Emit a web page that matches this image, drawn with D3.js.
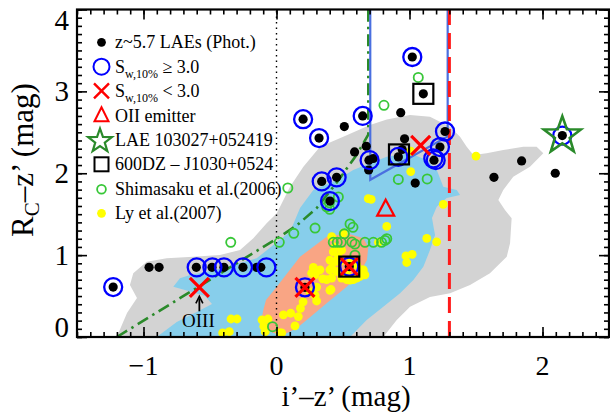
<!DOCTYPE html>
<html>
<head>
<meta charset="utf-8">
<script src="https://cdn.jsdelivr.net/npm/d3@7"></script>
<style>
  html, body { margin: 0; padding: 0; background: #fff; }
  svg { display: block; }
  text { font-family: "Liberation Serif", "Times New Roman", serif; fill: #000; }
</style>
</head>
<body>
<svg id="chart" width="610" height="412"></svg>
<script>
// ---- axis ticks ----
const xTicks = [-1, 0, 1, 2];
const yTicks = [0, 1, 2, 3, 4];

// ---- z~5.7 LAE photometric candidates (i'-z', Rc-z') ----
const laePhot = [
  [-1.228, 0.61], [-0.958, 0.851], [-0.883, 0.851], [-0.603, 0.851], [-0.485, 0.851],
  [-0.395, 0.851], [-0.252, 0.851], [-0.149, 0.851], [-0.118, 0.851],
  [0.20, 2.66], [0.32, 2.43], [0.51, 2.57], [0.648, 2.70], [0.587, 2.26], [0.675, 2.33],
  [0.695, 2.16], [0.728, 2.18], [0.693, 2.04], [0.34, 1.90], [0.452, 1.95], [0.402, 1.66],
  [0.916, 2.20], [0.945, 2.29], [0.963, 2.42], [0.934, 2.74], [1.043, 1.88], [1.021, 3.42],
  [1.104, 2.97], [1.267, 2.51], [1.229, 2.32], [1.184, 2.16], [1.635, 1.95], [1.843, 2.15],
  [2.096, 2.00], [2.149, 2.46], [0.214, 0.607], [0.547, 0.86]
];
// Sw,10% >= 3.0
const swHigh = [
  [-1.228, 0.61], [-0.600, 0.851], [-0.482, 0.851], [-0.395, 0.851], [-0.252, 0.851], [-0.076, 0.851],
  [0.20, 2.66], [0.32, 2.43], [0.648, 2.70], [0.700, 2.16], [0.34, 1.90], [0.452, 1.95],
  [0.402, 1.66], [0.916, 2.20], [1.021, 3.42], [1.267, 2.51], [1.229, 2.32], [1.179, 2.18],
  [1.197, 2.16], [2.149, 2.46], [0.214, 0.607], [0.547, 0.86]
];
// Sw,10% < 3.0
const swLow = [[-0.58, 0.607], [0.214, 0.607], [0.547, 0.86], [1.084, 2.34]];
const oiiEmitter = [[0.821, 1.56]];
const lae103027 = [[2.149, 2.46]];
const dz600 = [[0.547, 0.86], [0.921, 2.23], [1.104, 2.97]];

// ---- comparison samples ----
const shimasaku2006 = [
  [-0.344, 1.156], [0.021, 1.157], [0.130, 1.266], [0.29, 1.33], [0.377, 1.59], [0.40, 1.56],
  [0.553, 1.38], [0.575, 1.34], [0.51, 1.26], [0.427, 1.157], [0.457, 1.157], [0.487, 1.157],
  [0.567, 1.16], [0.59, 1.135], [0.665, 1.157], [0.728, 1.157], [0.79, 1.157], [0.816, 1.18],
  [0.829, 1.20], [0.59, 1.0], [-0.03, 0.126], [0.808, 2.83], [1.066, 3.17], [0.916, 1.925],
  [1.133, 1.93], [0.085, 1.82], [0.465, 1.71], [0.397, 1.64]
];
const ly2007 = [
  [-0.342, 0.22], [-0.297, 0.22], [-0.405, 0.05], [-0.355, 0.065], [-0.109, 0.21], [-0.064, 0.22],
  [-0.096, 0.13], [-0.085, 0.065], [0.039, 0.05], [0.026, 0.05], [0.052, 0.27], [0.107, 0.29],
  [0.164, 0.25], [0.139, 0.135], [0.18, 0.35], [0.20, 0.43], [0.29, 0.51], [0.302, 0.44],
  [0.252, 0.55], [0.302, 0.61], [0.402, 0.57], [0.41, 0.58], [0.377, 0.70], [0.347, 0.71],
  [0.415, 0.72], [0.49, 0.72], [0.528, 0.70], [0.553, 0.695], [0.578, 0.70], [0.603, 0.72],
  [0.628, 0.74], [0.665, 0.76], [0.653, 0.82], [0.64, 0.82], [0.527, 0.78], [0.603, 0.88],
  [0.565, 0.94], [0.477, 0.92], [0.44, 0.92], [0.465, 0.98], [0.49, 1.06], [0.402, 0.94],
  [0.277, 0.85], [0.314, 0.81], [0.264, 0.78], [0.289, 0.76], [0.327, 0.82], [0.402, 0.82],
  [0.415, 0.84], [0.452, 0.80], [0.427, 1.04], [0.44, 1.10], [0.415, 1.225], [0.502, 1.27],
  [0.766, 1.157], [0.829, 1.35], [1.13, 1.205], [1.204, 1.163], [1.254, 1.62], [0.973, 0.99],
  [1.02, 1.01], [0.979, 0.91], [1.009, 2.27], [1.009, 2.02], [0.69, 1.69], [0.712, 1.68],
  [1.50, 2.21]
];

// ---- number-density contours of the field population ----
const grayContour = [
  [-1.201, 0], [-1.124, 0.293], [-1.049, 0.476], [-1.102, 0.635], [-1.077, 0.778], [-0.976, 0.919],
  [-0.826, 0.961], [-0.626, 0.98], [-0.425, 1.001], [-0.274, 1.062], [-0.174, 1.205], [-0.074, 1.388],
  [0.002, 1.51], [0.102, 1.835], [0.202, 2.079], [0.327, 2.324], [0.502, 2.446], [0.703, 2.589],
  [0.829, 2.658], [1.004, 2.711], [1.154, 2.69], [1.304, 2.568], [1.38, 2.446], [1.43, 2.324],
  [1.48, 2.222], [1.58, 2.243], [1.705, 2.283], [1.856, 2.324], [1.956, 2.324], [2.006, 2.243],
  [1.906, 2.079], [1.78, 1.957], [1.705, 1.795], [1.668, 1.673], [1.718, 1.551], [1.768, 1.449],
  [1.756, 1.144], [1.731, 0.98], [1.605, 0.778], [1.455, 0.635], [1.305, 0.534], [1.154, 0.488],
  [1.004, 0.37], [0.904, 0.208], [0.803, 0]
];
const blueContour = [
  [-0.901, 0], [-0.75, 0.183], [-0.6, 0.305], [-0.485, 0.403], [-0.538, 0.5], [-0.688, 0.574],
  [-0.776, 0.614], [-0.726, 0.717], [-0.65, 0.757], [-0.462, 0.818], [-0.274, 0.904], [-0.149, 0.961],
  [-0.024, 1.123], [0.102, 1.286], [0.177, 1.575], [0.277, 1.795], [0.453, 1.917], [0.577, 2.039],
  [0.703, 2.121], [0.829, 2.201], [1.004, 2.243], [1.129, 2.161], [1.205, 2.039], [1.254, 1.835],
  [1.355, 1.795], [1.38, 1.734], [1.28, 1.697], [1.205, 1.591], [1.169, 1.453], [1.192, 1.245],
  [1.154, 1.062], [1.104, 0.858], [1.029, 0.696], [0.929, 0.534], [0.803, 0.37], [0.678, 0.208],
  [0.553, 0]
];
const salmonContour = [
  [-0.099, 0.33], [-0.111, 0.232], [-0.086, 0.122], [-0.026, 0.049], [0.064, 0.037], [0.152, 0.106],
  [0.227, 0.208], [0.377, 0.411], [0.528, 0.614], [0.628, 0.778], [0.68, 0.94], [0.69, 1.099],
  [0.653, 1.205], [0.528, 1.266], [0.377, 1.225], [0.177, 0.98], [0.002, 0.614], [-0.079, 0.452]
];

// ---- selection lines ----
const colourTrack = [[-1.2, 0], [0, 1.2], [0.15, 1.36], [0.3, 1.57], [0.45, 1.88], [0.6, 2.22], [0.69, 2.47], [0.69, 4]];
const selectionBox = [[0.705, 4], [0.705, 1.92], [1.287, 2.45], [1.287, 4]];
const izCut = [[1.3, 0], [1.3, 4]];
const izZero = [[0, 0], [0, 4]];

// ---- layout ----
const svg = d3.select("#chart");
const plot = { left: 77, right: 609, top: 9.5, bottom: 337 };
const x = d3.scaleLinear().domain([-1.5, 2.5]).range([plot.left, plot.right]);
const y = d3.scaleLinear().domain([0, 4]).range([plot.bottom, plot.top]);

svg.append("defs").append("clipPath").attr("id", "plotclip")
  .append("rect").attr("x", plot.left).attr("y", plot.top)
  .attr("width", plot.right - plot.left).attr("height", plot.bottom - plot.top);

const g = svg.append("g").attr("clip-path", "url(#plotclip)");
const line = d3.line().x(d => x(d[0])).y(d => y(d[1]));
const area = d3.line().x(d => x(d[0])).y(d => y(d[1])).curve(d3.curveLinearClosed);

// filled contours
g.append("path").attr("d", area(grayContour)).attr("fill", "#d3d3d3");
g.append("path").attr("d", area(blueContour)).attr("fill", "#87ceeb");
g.append("path").attr("d", area(salmonContour)).attr("fill", "#f9a584");

// reference lines
g.append("path").attr("d", line(izZero)).attr("fill", "none")
  .attr("stroke", "#000").attr("stroke-width", 1.4).attr("stroke-dasharray", "1.5,4");
g.append("path").attr("d", line(colourTrack)).attr("fill", "none")
  .attr("stroke", "#2a8a2a").attr("stroke-width", 2.6).attr("stroke-dasharray", "12,5,2.5,5");
g.append("path").attr("d", line(selectionBox)).attr("fill", "none")
  .attr("stroke", "#4a6fe0").attr("stroke-width", 2.2);
g.append("path").attr("d", line(izCut)).attr("fill", "none")
  .attr("stroke", "#ff1a1a").attr("stroke-width", 3).attr("stroke-dasharray", "16,8");

// marker helpers
function starPath(R) {
  const r = R * 0.4, pts = [];
  for (let i = 0; i < 10; i++) {
    const a = -Math.PI / 2 + i * Math.PI / 5, rr = i % 2 ? r : R;
    pts.push([rr * Math.cos(a), rr * Math.sin(a)]);
  }
  return "M" + pts.map(p => p.join(",")).join("L") + "Z";
}
function crossPath(s) { return `M${-s},${-s}L${s},${s}M${-s},${s}L${s},${-s}`; }
function triPath(w, h) { return `M0,${-h * 0.6}L${w / 2},${h * 0.4}L${-w / 2},${h * 0.4}Z`; }

// comparison samples
g.selectAll("circle.ly").data(ly2007).join("circle").attr("class", "ly")
  .attr("cx", d => x(d[0])).attr("cy", d => y(d[1])).attr("r", 4.4).attr("fill", "#ffff00");
g.selectAll("circle.shim").data(shimasaku2006).join("circle").attr("class", "shim")
  .attr("cx", d => x(d[0])).attr("cy", d => y(d[1])).attr("r", 4.6)
  .attr("fill", "none").attr("stroke", "#38c738").attr("stroke-width", 1.8);

// LAE candidates
g.selectAll("circle.lae").data(laePhot).join("circle").attr("class", "lae")
  .attr("cx", d => x(d[0])).attr("cy", d => y(d[1])).attr("r", 4.6).attr("fill", "#000");
g.selectAll("circle.sw").data(swHigh).join("circle").attr("class", "sw")
  .attr("cx", d => x(d[0])).attr("cy", d => y(d[1])).attr("r", 9)
  .attr("fill", "none").attr("stroke", "#0000ff").attr("stroke-width", 2.3);
g.selectAll("path.swlow").data(swLow).join("path").attr("class", "swlow")
  .attr("transform", d => `translate(${x(d[0])},${y(d[1])})`).attr("d", crossPath(9.5))
  .attr("fill", "none").attr("stroke", "#ff0000").attr("stroke-width", 3.2);
g.selectAll("rect.dz").data(dz600).join("rect").attr("class", "dz")
  .attr("x", d => x(d[0]) - 10).attr("y", d => y(d[1]) - 10).attr("width", 20).attr("height", 20)
  .attr("fill", "none").attr("stroke", "#000").attr("stroke-width", 2.2);
g.selectAll("path.star").data(lae103027).join("path").attr("class", "star")
  .attr("transform", d => `translate(${x(d[0])},${y(d[1])})`).attr("d", starPath(19.5))
  .attr("fill", "none").attr("stroke", "#2a8a2a").attr("stroke-width", 2.6).attr("stroke-linejoin", "miter");
g.selectAll("path.oii").data(oiiEmitter).join("path").attr("class", "oii")
  .attr("transform", d => `translate(${x(d[0])},${y(d[1])})`).attr("d", triPath(17, 16))
  .attr("fill", "none").attr("stroke", "#ff0000").attr("stroke-width", 2.2);

// OIII annotation under the first low-Sw cross
const oiii = swLow[0];
const ox = x(oiii[0]), oy = y(oiii[1]);
svg.append("path").attr("d", `M${ox},${oy + 24}L${ox},${oy + 11}`)
  .attr("stroke", "#000").attr("stroke-width", 1.8);
svg.append("path").attr("d", `M${ox - 3.5},${oy + 16}L${ox},${oy + 9}L${ox + 3.5},${oy + 16}`)
  .attr("fill", "none").attr("stroke", "#000").attr("stroke-width", 1.6);
svg.append("text").attr("x", ox - 1).attr("y", oy + 40).attr("text-anchor", "middle")
  .attr("font-size", 19).text("OIII");

// ---- frame and ticks ----
const xMinor = d3.range(-15, 26).map(i => i / 10);
const yMinor = d3.range(0, 41).map(i => i / 10);
const axes = svg.append("g");
function addAxis(axisFn, scale, vals, size, transform) {
  axes.append("g").attr("transform", transform)
    .call(axisFn(scale).tickValues(vals).tickSize(size).tickSizeOuter(0).tickFormat(""))
    .call(s => s.select(".domain").remove())
    .call(s => s.selectAll("line").attr("stroke", "#000").attr("stroke-width", 1.6));
}
addAxis(d3.axisBottom, x, xMinor, -5, `translate(0,${plot.bottom})`);
addAxis(d3.axisBottom, x, xTicks, -10, `translate(0,${plot.bottom})`);
addAxis(d3.axisTop, x, xMinor, -5, `translate(0,${plot.top})`);
addAxis(d3.axisTop, x, xTicks, -10, `translate(0,${plot.top})`);
addAxis(d3.axisLeft, y, yMinor, -5, `translate(${plot.left},0)`);
addAxis(d3.axisLeft, y, yTicks, -10, `translate(${plot.left},0)`);
addAxis(d3.axisRight, y, yMinor, -5, `translate(${plot.right},0)`);
addAxis(d3.axisRight, y, yTicks, -10, `translate(${plot.right},0)`);
svg.append("rect").attr("x", plot.left).attr("y", plot.top)
  .attr("width", plot.right - plot.left).attr("height", plot.bottom - plot.top)
  .attr("fill", "none").attr("stroke", "#000").attr("stroke-width", 2.2);

// tick labels
const fmt = d => (d < 0 ? "\u2212" + Math.abs(d) : String(d));
svg.selectAll("text.xt").data(xTicks).join("text").attr("class", "xt")
  .attr("x", d => x(d)).attr("y", 375).attr("text-anchor", "middle")
  .attr("font-size", 28).text(fmt);
svg.selectAll("text.yt").data(yTicks).join("text").attr("class", "yt")
  .attr("x", 69).attr("y", d => Math.min(Math.max(y(d), 20), 327))
  .attr("dy", "0.34em").attr("text-anchor", "end")
  .attr("font-size", 29).text(fmt);

// axis titles
svg.append("text").attr("x", 346).attr("y", 406).attr("text-anchor", "middle")
  .attr("font-size", 29).text("i\u2019\u2013z\u2019 (mag)");
const yt = svg.append("text").attr("transform", "translate(33,160) rotate(-90)")
  .attr("text-anchor", "middle").attr("font-size", 31);
yt.append("tspan").text("R");
yt.append("tspan").attr("font-size", 21).attr("dy", 6).text("C");
yt.append("tspan").attr("dy", -6).text("\u2013z\u2019 (mag)");

// ---- legend ----
const legendRows = [
  { key: "lae", label: "z~5.7 LAEs (Phot.)" },
  { key: "swHigh", label: ["S", "w,10%", " \u2265 3.0"] },
  { key: "swLow", label: ["S", "w,10%", " < 3.0"] },
  { key: "oii", label: "OII emitter" },
  { key: "star", label: "LAE 103027+052419" },
  { key: "dz", label: "600DZ \u2013 J1030+0524" },
  { key: "shim", label: "Shimasaku et al.(2006)" },
  { key: "ly", label: "Ly et al.(2007)" }
];
const legY = [42.3, 66.7, 90.9, 115.7, 140, 164.3, 189.3, 213.3];
const legSymX = 101.5, legTextX = 115;
const leg = svg.append("g");
legendRows.forEach((row, i) => {
  const cy = legY[i];
  const s = leg.append("g").attr("transform", `translate(${legSymX},${cy})`);
  if (row.key === "lae") s.append("circle").attr("r", 4.4).attr("fill", "#000");
  if (row.key === "swHigh") s.append("circle").attr("r", 8).attr("fill", "none").attr("stroke", "#0000ff").attr("stroke-width", 2);
  if (row.key === "swLow") s.append("path").attr("d", crossPath(7.5)).attr("stroke", "#ff0000").attr("stroke-width", 2.4);
  if (row.key === "oii") s.append("path").attr("d", triPath(14, 14)).attr("fill", "none").attr("stroke", "#ff0000").attr("stroke-width", 2);
  if (row.key === "star") s.attr("transform", `translate(${legSymX - 1.5},${cy + 1})`).append("path").attr("d", starPath(12.5)).attr("fill", "none").attr("stroke", "#2a8a2a").attr("stroke-width", 2.2);
  if (row.key === "dz") s.append("rect").attr("x", -7).attr("y", -7).attr("width", 14).attr("height", 14).attr("fill", "none").attr("stroke", "#000").attr("stroke-width", 2);
  if (row.key === "shim") s.append("circle").attr("r", 4.4).attr("fill", "none").attr("stroke", "#38c738").attr("stroke-width", 1.8);
  if (row.key === "ly") s.append("circle").attr("r", 4.4).attr("fill", "#ffff00");
  const t = leg.append("text").attr("x", legTextX).attr("y", cy + 6).attr("font-size", 18);
  if (Array.isArray(row.label)) {
    t.append("tspan").text(row.label[0]);
    t.append("tspan").attr("font-size", 12).attr("dy", 5).text(row.label[1]);
    t.append("tspan").attr("dy", -5).text(row.label[2]);
  } else {
    t.text(row.label);
  }
});
</script>
</body>
</html>
